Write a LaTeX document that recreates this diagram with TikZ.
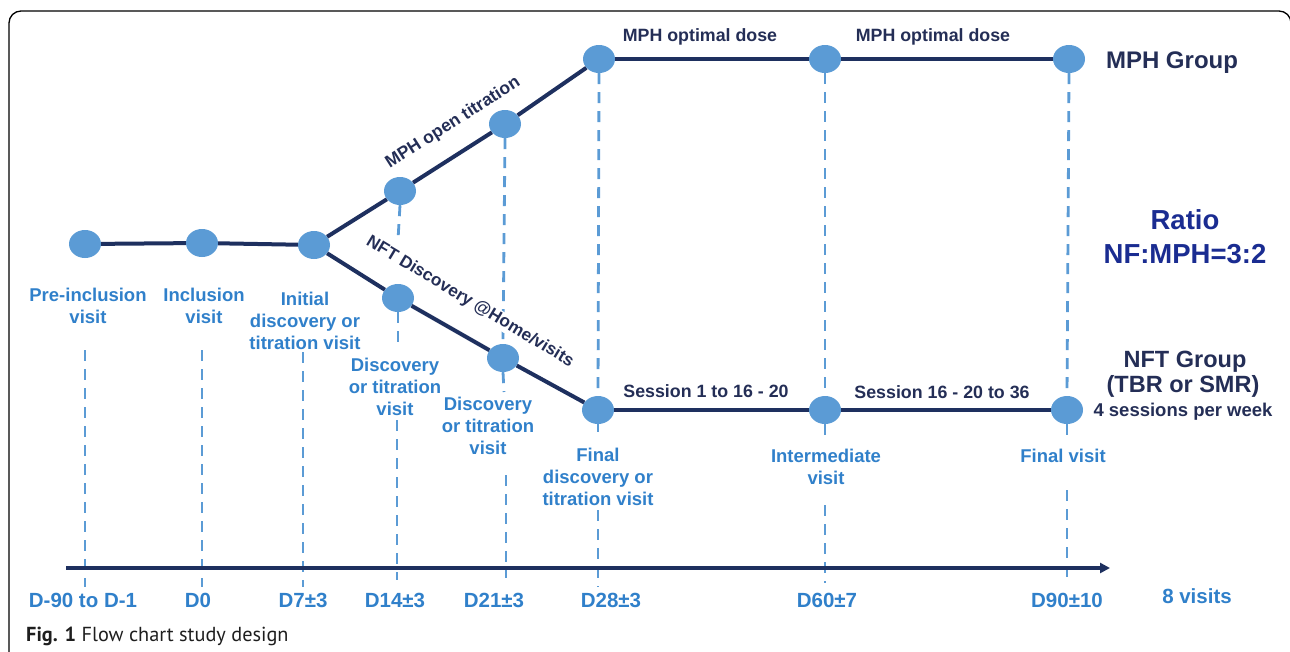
\documentclass[tikz,border=0pt]{standalone}
\usepackage{fontspec}
\setmainfont{Liberation Sans}
\newfontfamily\capfont{PT Sans}
\usetikzlibrary{arrows.meta,shapes.geometric}
\definecolor{navy}{RGB}{30,48,95}
\definecolor{dot}{RGB}{91,155,213}
\definecolor{lbl}{RGB}{48,128,202}
\definecolor{dark}{RGB}{36,46,86}
\definecolor{ratio}{RGB}{26,44,145}
\begin{document}
\begin{tikzpicture}[x=1pt,y=-1pt,
  visit/.style={ellipse, fill=dot, minimum width=32pt, minimum height=28pt, inner sep=0pt},
  link/.style={navy, line width=4pt},
  guide/.style={dot, line width=2.8pt, dash pattern=on 11pt off 8pt},
  lab/.style={text=lbl, font=\bfseries\fontsize{18.5}{22}\selectfont, align=center, anchor=north, inner sep=0pt},
  dk/.style={text=dark, font=\bfseries\fontsize{17.8}{21}\selectfont, inner sep=0pt, anchor=base},
  day/.style={text=lbl, font=\bfseries\fontsize{20.5}{24}\selectfont, anchor=base, inner sep=0pt},
  grp/.style={text=dark, font=\bfseries\fontsize{24}{28}\selectfont, anchor=base, inner sep=0pt},
  rt/.style={text=ratio, font=\bfseries\fontsize{27.5}{32}\selectfont, anchor=base, inner sep=0pt},
]
\useasboundingbox (0,0) rectangle (1290,651);
% frame
\draw[line width=1.3pt, rounded corners=12pt] (9,680) -- (9,11) -- (1291,11) -- (1291,680);

% visits
\node[visit] (pre) at (85,244) {};
\node[visit] (inc) at (202,243) {};
\node[visit] (ini) at (314,245) {};
\node[visit] (m2) at (400,191) {};
\node[visit] (m3) at (505,124) {};
\node[visit] (m4) at (599,59) {};
\node[visit] (m5) at (825,59) {};
\node[visit] (m6) at (1069,59) {};
\node[visit] (n2) at (398,298) {};
\node[visit] (n3) at (503,358) {};
\node[visit] (n4) at (598,410) {};
\node[visit] (n5) at (825,410) {};
\node[visit] (n6) at (1067,410) {};

% guide coordinates
\coordinate (g1a) at (85,350);  \coordinate (g1b) at (85,587);
\coordinate (g2a) at (202,350); \coordinate (g2b) at (202,587);
\coordinate (g3a) at (303,352); \coordinate (g3b) at (303,587);
\coordinate (g4a) at (398,240); \coordinate (g4b) at (398,345);
\coordinate (g4c) at (397,420); \coordinate (g4d) at (397,580);
\coordinate (g5a) at (504,392); \coordinate (g5b) at (506,475); \coordinate (g5c) at (506,578);
\coordinate (g6a) at (598,432); \coordinate (g6b) at (598,510); \coordinate (g6c) at (598,587);
\coordinate (g7a) at (825,440); \coordinate (g7b) at (825,505); \coordinate (g7c) at (825,583);
\coordinate (g8a) at (1067,440); \coordinate (g8b) at (1067,490); \coordinate (g8c) at (1067,582);

% dashed guides
\draw[guide] (g1a) -- (g1b);
\draw[guide] (g2a) -- (g2b);
\draw[guide] (g3a) -- (g3b);
\draw[guide] (m2.south) -- (g4a);
\draw[guide] (n2.south) -- (g4b);
\draw[guide] (g4c) -- (g4d);
\draw[guide] (m3.south) -- (n3.north);
\draw[guide] (n3.south) -- (g5a);
\draw[guide] (g5b) -- (g5c);
\draw[guide] (m4.south) -- (n4.north);
\draw[guide] (n4.south) -- (g6a);
\draw[guide] (g6b) -- (g6c);
\draw[guide] (m5.south) -- (n5.north);
\draw[guide] (n5.south) -- (g7a);
\draw[guide] (g7b) -- (g7c);
\draw[guide] (m6.south) -- (n6.north);
\draw[guide] (n6.south) -- (g8a);
\draw[guide] (g8b) -- (g8c);

% links
\draw[link] (pre) -- (inc);
\draw[link] (inc) -- (ini);
\draw[link] (ini) -- (m2);
\draw[link] (m2) -- (m3);
\draw[link] (m3) -- (m4);
\draw[link] (m4) -- (m5);
\draw[link] (m5) -- (m6);
\draw[link] (ini) -- (n2);
\draw[link] (n2) -- (n3);
\draw[link] (n3) -- (n4);
\draw[link] (n4) -- (n5);
\draw[link] (n5) -- (n6);

% time axis
\coordinate (ax0) at (66,568);
\coordinate (ax1) at (1110,568);
\draw[navy, line width=3.5pt, -{Triangle[length=10pt,width=10pt]}] (ax0) -- (ax1);

% branch labels
\node[text=dark, font=\bfseries\fontsize{17.5}{21}\selectfont, rotate=32.5, inner sep=1pt] (mot) at (453,123) {MPH open titration};
\node[text=dark, font=\bfseries\fontsize{17.2}{21}\selectfont, rotate=-31, fill=white, inner sep=1pt] (nft) at (470,302) {NFT Discovery @Home/visits};
\node[dk] (od1) at (700,41) {MPH optimal dose};
\node[dk] (od2) at (933,41) {MPH optimal dose};
\node[dk] (s1) at (706,397) {Session 1 to 16 - 20};
\node[dk] (s2) at (942,398) {Session 16 - 20 to 36};

% group labels
\node[grp] (mphg) at (1172,68) {MPH Group};
\node[rt] (r1) at (1185,229) {Ratio};
\node[rt] (r2) at (1185,263) {NF:MPH=3:2};
\node[grp, font=\bfseries\fontsize{23.5}{28}\selectfont] (nftg) at (1185,367) {NFT Group};
\node[grp, font=\bfseries\fontsize{23.5}{28}\selectfont] (tbr) at (1183,392) {(TBR or SMR)};
\node[grp, font=\bfseries\fontsize{18.5}{22}\selectfont] (ses) at (1183,416) {4 sessions per week};

% visit labels
\node[lab] (lpre) at (88,288) {Pre-inclusion\\visit};
\node[lab] (linc) at (204,288) {Inclusion\\visit};
\node[lab] (lini) at (305,292) {Initial\\discovery or\\titration visit};
\node[lab] (l14) at (395,358) {Discovery\\or titration\\visit};
\node[lab] (l21) at (488,397) {Discovery\\or titration\\visit};
\node[lab] (l28) at (598,448) {Final\\discovery or\\titration visit};
\node[lab] (l60) at (826,449) {Intermediate\\visit};
\node[lab] (l90) at (1063,449) {Final visit};

% day labels
\node[day] (d1) at (83,607) {D-90 to D-1};
\node[day] (d2) at (198,607) {D0};
\node[day] (d3) at (303,607) {D7±3};
\node[day] (d4) at (395,607) {D14±3};
\node[day] (d5) at (494,607) {D21±3};
\node[day] (d6) at (611,607) {D28±3};
\node[day] (d7) at (827,607) {D60±7};
\node[day] (d8) at (1067,607) {D90±10};
\node[day] (d9) at (1197,603) {8 visits};

% caption
\node[anchor=base west, inner sep=0pt, text={rgb,255:red,30;green,30;blue,30}, font=\capfont\fontsize{20.3}{24}\selectfont] (cap) at (26,641) {\textbf{Fig. 1} Flow chart study design};
\end{tikzpicture}
\end{document}
